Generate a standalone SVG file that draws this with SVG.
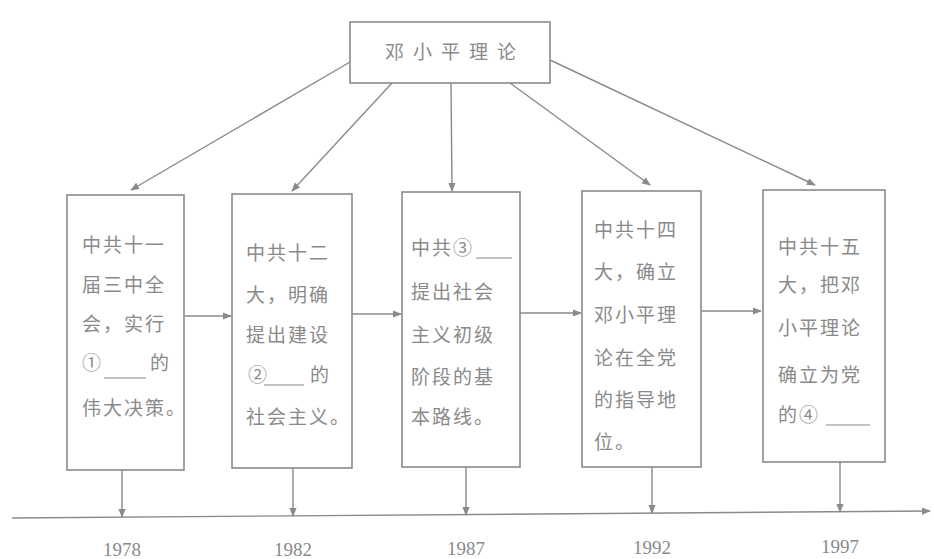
<svg xmlns="http://www.w3.org/2000/svg" width="934" height="559" viewBox="0 0 934 559">
<style>
.box{fill:#fff;stroke:#8a8a8a;stroke-width:1.6}
.t{font-family:"Noto Sans CJK SC",sans-serif;font-size:19px;fill:#8a8a8a;letter-spacing:2px}
.tt{font-family:"Noto Sans CJK SC",sans-serif;font-size:19px;fill:#8a8a8a;letter-spacing:9px}
.yr{font-family:"Liberation Serif",serif;font-size:19px;fill:#8a8a8a;text-anchor:middle}
.c{stroke:#8a8a8a;stroke-width:1.4;fill:none}
.ul{stroke:#8a8a8a;stroke-width:1.2}
</style>
<defs>
<marker id="ah" viewBox="0 0 10 10" refX="9" refY="5" markerWidth="9" markerHeight="9" markerUnits="userSpaceOnUse" orient="auto">
<path d="M0,1 L10,5 L0,9 Z" fill="#8a8a8a"/>
</marker>
</defs>
<g id="connectors">
<line class="c" x1="350" y1="62" x2="131" y2="190" marker-end="url(#ah)"/>
<line class="c" x1="392" y1="83" x2="292" y2="191" marker-end="url(#ah)"/>
<line class="c" x1="451" y1="83" x2="452" y2="191" marker-end="url(#ah)"/>
<line class="c" x1="510" y1="83" x2="650" y2="185" marker-end="url(#ah)"/>
<line class="c" x1="550" y1="60" x2="815" y2="185" marker-end="url(#ah)"/>
<line class="c" x1="185" y1="316" x2="231" y2="316" marker-end="url(#ah)"/>
<line class="c" x1="352" y1="314" x2="401" y2="314" marker-end="url(#ah)"/>
<line class="c" x1="520" y1="313" x2="581" y2="313" marker-end="url(#ah)"/>
<line class="c" x1="701" y1="311" x2="761" y2="311" marker-end="url(#ah)"/>
<line class="c" x1="122" y1="470" x2="122" y2="517" marker-end="url(#ah)"/>
<line class="c" x1="293" y1="468" x2="293" y2="516" marker-end="url(#ah)"/>
<line class="c" x1="466" y1="467" x2="466" y2="515" marker-end="url(#ah)"/>
<line class="c" x1="652" y1="467" x2="652" y2="513" marker-end="url(#ah)"/>
<line class="c" x1="840" y1="462" x2="840" y2="512" marker-end="url(#ah)"/>
<line class="c" x1="12" y1="518" x2="930" y2="511" marker-end="url(#ah)"/>
</g>
<g id="top">
<rect class="box" x="350" y="22" width="200" height="61"/>
<text class="tt" x="385" y="59">邓小平理论</text>
</g>
<g id="n1978">
<rect class="box" x="67" y="195" width="117" height="275"/>
<text class="t" x="82" y="252">中共十一</text>
<text class="t" x="82" y="292">届三中全</text>
<text class="t" x="82" y="331">会，实行</text>
<text class="t" x="82" y="370">①</text>
<line class="ul" x1="104" y1="378" x2="146" y2="378"/>
<text class="t" x="150" y="370">的</text>
<text class="t" x="82" y="415">伟大决策。</text>
</g>
<g id="n1982">
<rect class="box" x="232" y="194" width="120" height="274"/>
<text class="t" x="246" y="260">中共十二</text>
<text class="t" x="246" y="302">大，明确</text>
<text class="t" x="246" y="342">提出建设</text>
<text class="t" x="248" y="382">②</text>
<line class="ul" x1="264" y1="385" x2="304" y2="385"/>
<text class="t" x="310" y="382">的</text>
<text class="t" x="246" y="424">社会主义。</text>
</g>
<g id="n1987">
<rect class="box" x="402" y="192" width="118" height="275"/>
<text class="t" x="411" y="255">中共③</text>
<line class="ul" x1="476" y1="258" x2="512" y2="258"/>
<text class="t" x="411" y="299">提出社会</text>
<text class="t" x="411" y="342">主义初级</text>
<text class="t" x="411" y="384">阶段的基</text>
<text class="t" x="411" y="424">本路线。</text>
</g>
<g id="n1992">
<rect class="box" x="582" y="191" width="119" height="276"/>
<text class="t" x="594" y="237">中共十四</text>
<text class="t" x="594" y="279">大，确立</text>
<text class="t" x="594" y="322">邓小平理</text>
<text class="t" x="594" y="365">论在全党</text>
<text class="t" x="594" y="407">的指导地</text>
<text class="t" x="594" y="449">位。</text>
</g>
<g id="n1997">
<rect class="box" x="763" y="190" width="122" height="272"/>
<text class="t" x="778" y="254">中共十五</text>
<text class="t" x="778" y="292">大，把邓</text>
<text class="t" x="778" y="335">小平理论</text>
<text class="t" x="778" y="382">确立为党</text>
<text class="t" x="778" y="422">的④</text>
<line class="ul" x1="826" y1="425" x2="870" y2="425"/>
</g>
<g id="years">
<text class="yr" x="122" y="556">1978</text>
<text class="yr" x="293" y="556">1982</text>
<text class="yr" x="466" y="555">1987</text>
<text class="yr" x="652" y="554">1992</text>
<text class="yr" x="840" y="553">1997</text>
</g>
</svg>
